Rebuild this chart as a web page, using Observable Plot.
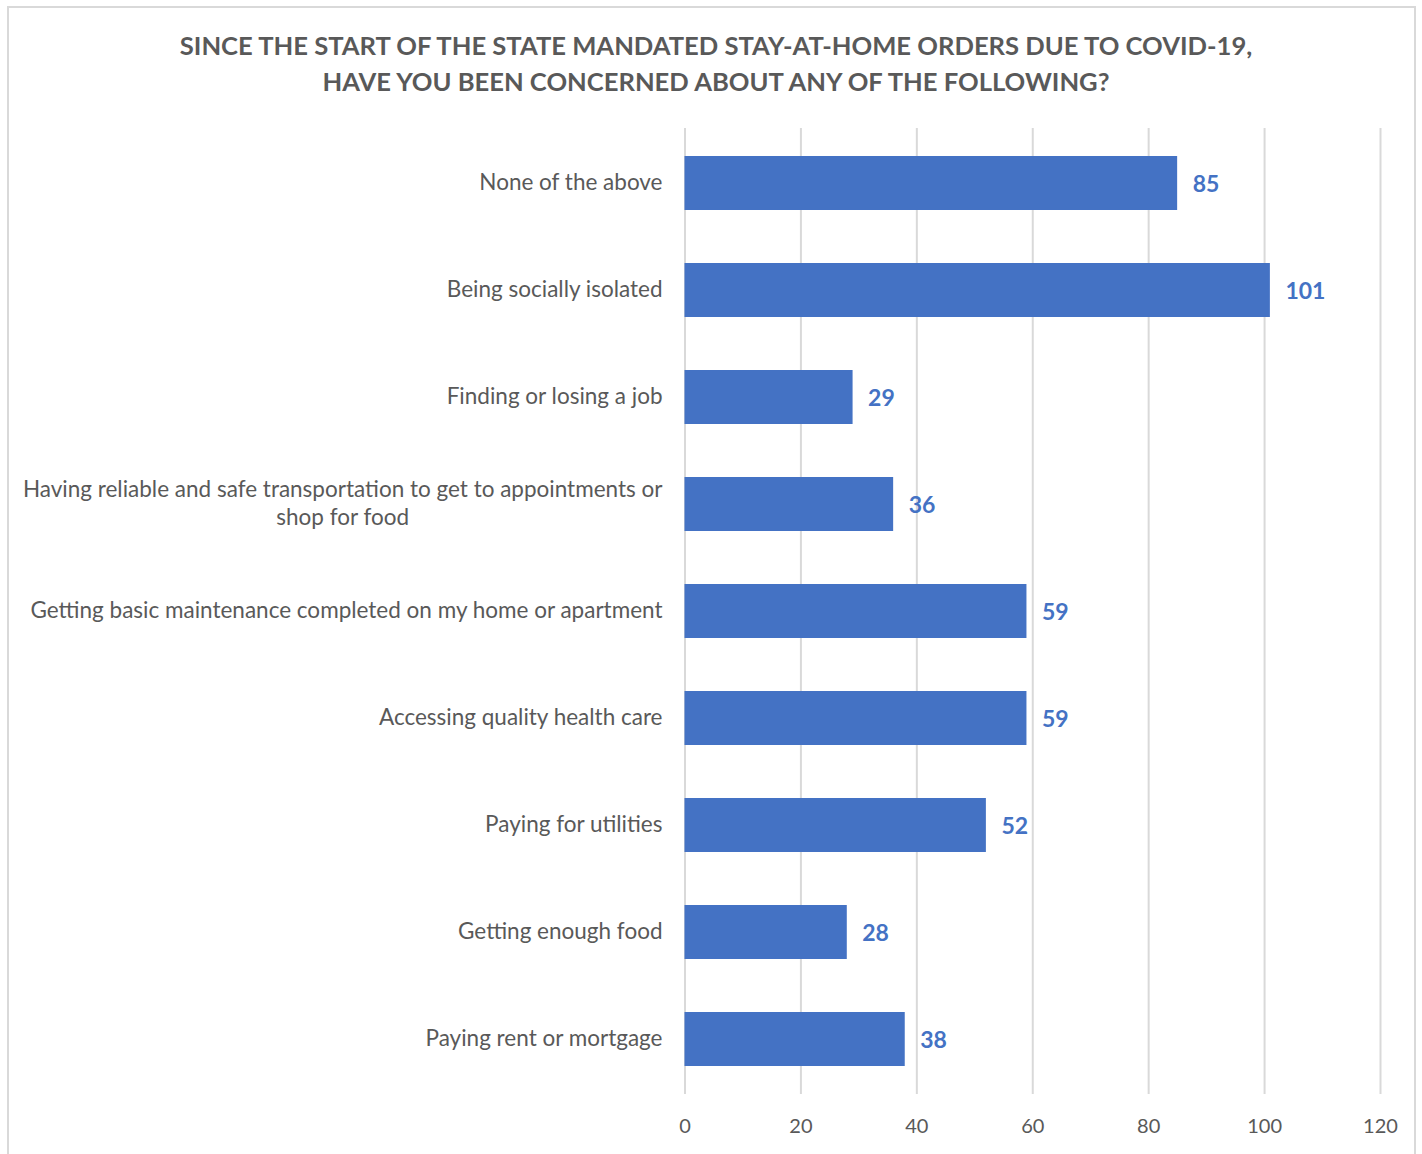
<!DOCTYPE html>
<html>
<head>
<meta charset="utf-8">
<script src="https://cdn.jsdelivr.net/npm/d3@7"></script>
<script src="https://cdn.jsdelivr.net/npm/@observablehq/plot@0.6"></script>
<style>
  html, body { margin: 0; padding: 0; background: #fff; }
  #wrap { position: relative; width: 1422px; height: 1154px; overflow: hidden; font-family: Lato, "Open Sans", sans-serif; }
  #frame { position: absolute; left: 7px; top: 6px; width: 1409px; height: 1160px; border: 2px solid #d9d9d9; box-sizing: border-box; }
  #title { position: absolute; left: 0; width: 1432px; top: 27px; text-align: center; color: #595959; font-weight: bold; font-size: 25.6px; line-height: 36px; }
  #chart { position: absolute; left: 0; top: 0; }
</style>
</head>
<body>
<div id="wrap">
  <div id="frame"></div>
  <div id="chart"></div>
  <div id="title">SINCE THE START OF THE STATE MANDATED STAY-AT-HOME ORDERS DUE TO COVID-19,<br>HAVE YOU BEEN CONCERNED ABOUT ANY OF THE FOLLOWING?</div>
</div>
<script>
const categories = [
  "None of the above",
  "Being socially isolated",
  "Finding or losing a job",
  "Having reliable and safe transportation to get to appointments or\nshop for food",
  "Getting basic maintenance completed on my home or apartment",
  "Accessing quality health care",
  "Paying for utilities",
  "Getting enough food",
  "Paying rent or mortgage"
];
const values = [85, 101, 29, 36, 59, 59, 52, 28, 38];
const xTicks = [0, 20, 40, 60, 80, 100, 120];

const data = categories.map((c, i) => ({category: c, value: values[i]}));

const plot = Plot.plot({
  width: 1422,
  height: 1154,
  marginLeft: 685,
  marginRight: 42,
  marginTop: 128,
  marginBottom: 60,
  style: {fontFamily: "Lato, 'Open Sans', sans-serif", background: "transparent", overflow: "visible"},
  x: {domain: [0, 120], range: [684.5, 1380], ticks: xTicks, label: null},
  y: {domain: categories, paddingInner: 0.5, paddingOuter: 0.25, label: null},
  marks: [
    Plot.gridX(xTicks, {stroke: "#d9d9d9", strokeOpacity: 1, strokeWidth: 2}),
    Plot.barX(data, {x: "value", y: "category", fill: "#4472C4", style: "filter: drop-shadow(2px 2px 3px rgba(0,0,0,0.25))"}),
    Plot.text(data, {x: "value", y: "category", text: d => String(d.value), textAnchor: "start", dx: 15, dy: 1.5, fill: "#4472C4", fontWeight: "bold", fontSize: 23}),
    Plot.axisX(xTicks, {tickSize: 0, tickPadding: 24, fontSize: 20, fill: "#595959", label: null}),
    Plot.axisY({tickSize: 0, tickPadding: 23, dy: -2, fontSize: 22.5, fill: "#595959", label: null, lineHeight: 1.24})
  ]
});
document.getElementById("chart").appendChild(plot);

// center multi-line y labels like the original (lines centered on the longest line)
plot.querySelectorAll("[aria-label='y-axis tick label'] text").forEach(t => {
  const spans = t.querySelectorAll("tspan");
  if (spans.length > 1) {
    let w = 0;
    spans.forEach(s => { w = Math.max(w, s.getComputedTextLength()); });
    t.setAttribute("text-anchor", "middle");
    const bx = +(t.getAttribute("x") || 0);
    t.setAttribute("x", bx - w / 2);
    spans.forEach(s => s.setAttribute("x", bx - w / 2));
  }
});
</script>
</body>
</html>
